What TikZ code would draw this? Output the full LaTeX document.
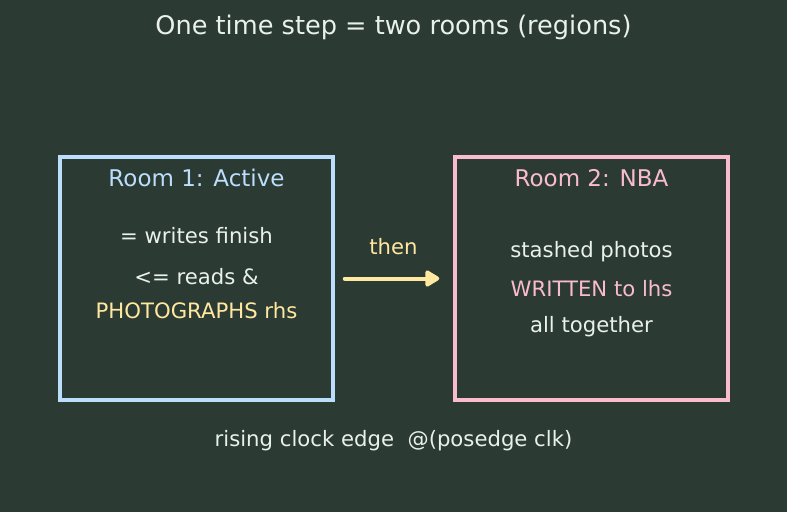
\documentclass[tikz,border=0pt]{standalone}
\usepackage{fontspec}
\setmainfont{DejaVu Sans}
\usetikzlibrary{arrows.meta}
\definecolor{bg}{HTML}{2B3A33}
\definecolor{ink}{HTML}{E8F1EA}
\definecolor{roomblue}{HTML}{BBDEFB}
\definecolor{roompink}{HTML}{F8BBD0}
\definecolor{hilite}{HTML}{FFE8A0}
\tikzset{
  room/.style={draw, line width=3.5pt, minimum width=273pt, minimum height=243pt},
  txt/.style={text=ink, font=\fontsize{21.2}{25}\selectfont},
  head/.style={font=\fontsize{23}{27}\selectfont},
}
\begin{document}
\begin{tikzpicture}[x=1pt, y=-1pt]
\fill[bg] (0,0) rectangle (787,512);
\useasboundingbox (0,0) rectangle (787,512);

\node[text=ink, font=\fontsize{25.6}{30}\selectfont] (title) at (393.5,27) {One time step = two rooms (regions)};

% room 1
\node[room, draw=roomblue] (room1) at (196.5,278.5) {};
\node[head, text=roomblue] (head1) at (196.5,178) {Room 1: Active};
\node[txt] (finish) at (196.5,236) {= writes finish};
\node[txt] (reads) at (196.5,277) {<= reads \&};
\node[txt, text=hilite] (photo) at (196.5,311) {PHOTOGRAPHS rhs};

% room 2
\node[room, draw=roompink] (room2) at (591.5,278.5) {};
\node[head, text=roompink] (head2) at (591.5,178) {Room 2: NBA};
\node[txt] (stash) at (591.5,252) {stashed photos};
\node[txt, text=roompink] (written) at (591.5,289) {WRITTEN to lhs};
\node[txt] (together) at (591.5,327) {all together};

% then
\draw[hilite, line width=4pt, line cap=round, -{Triangle[length=16pt,width=18pt,round]},
  shorten <=10pt, shorten >=14pt] (room1.east) -- (room2.west);
\node[txt, text=hilite] (then) at (393.5,247) {then};

\node[txt] (edge) at (393.5,441) {rising clock edge\ \ @(posedge clk)};
\end{tikzpicture}
\end{document}
